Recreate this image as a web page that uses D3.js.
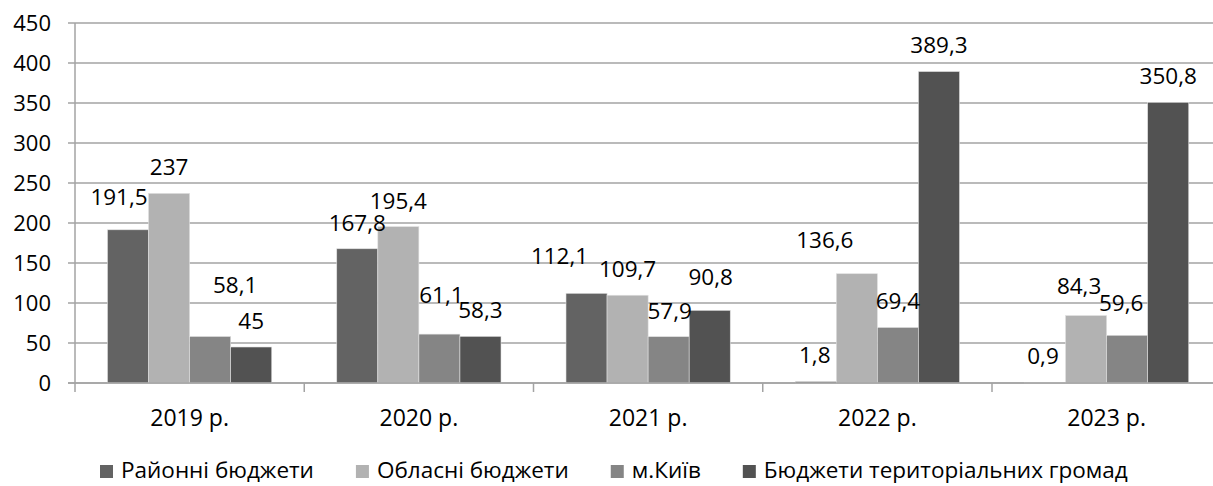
<!DOCTYPE html>
<html>
<head>
<meta charset="utf-8">
<script src="https://cdn.jsdelivr.net/npm/d3@7"></script>
<style>
  body { margin: 0; background: #fff; }
  text { font-family: "Open Sans", sans-serif; fill: #000; }
</style>
</head>
<body>
<svg id="chart" width="1213" height="486"></svg>
<script>
// data
var years = ['2019 р.', '2020 р.', '2021 р.', '2022 р.', '2023 р.'];
var seriesNames = ['Районні бюджети', 'Обласні бюджети', 'м.Київ', 'Бюджети територіальних громад'];
var raionni = [191.5, 167.8, 112.1, 1.8, 0.9];
var oblasni = [237, 195.4, 109.7, 136.6, 84.3];
var kyiv = [58.1, 61.1, 57.9, 69.4, 59.6];
var hromady = [45, 58.3, 90.8, 389.3, 350.8];
var yTicks = [0, 50, 100, 150, 200, 250, 300, 350, 400, 450];

var colors = ['#636363', '#b2b2b2', '#858585', '#525252'];

// manual label nudges (dx, dy) like the hand-moved excel labels, per year then series
var labelNudge = [
  [[-9, -7], [0, 0], [25, -25], [0, 0]],
  [[0, 0], [0, 0], [2, -13], [0, 0]],
  [[-27, -11], [0, 0], [1, 0], [1, -7]],
  [[-1, 0], [-32, -8], [0, 0], [0, 0]],
  [[-2, 0], [-7, -3], [-6, -6], [0, 0]]
];

var allSeries = [raionni, oblasni, kyiv, hromady];

var svg = d3.select('#chart');
var plotLeft = 75, plotTop = 23, plotBottom = 383;
var band = 229.25;

var x = d3.scaleBand().domain(years).range([plotLeft, plotLeft + band * years.length]);
var xs = d3.scaleBand().domain(d3.range(seriesNames.length)).range([32.5, band - 32.5]);
var y = d3.scaleLinear().domain([0, 450]).range([plotBottom, plotTop]);

// gridlines + y labels
var grid = svg.append('g');
grid.selectAll('line').data(yTicks).enter().append('line')
  .attr('x1', plotLeft - 7).attr('x2', 1213)
  .attr('y1', function(d) { return y(d); })
  .attr('y2', function(d) { return y(d); })
  .attr('stroke', '#a3a3a3').attr('stroke-width', 1.5);
grid.selectAll('text').data(yTicks).enter().append('text')
  .attr('x', 51).attr('y', function(d) { return y(d); })
  .attr('dy', '0.35em').attr('text-anchor', 'end')
  .style('font-size', '22px')
  .text(function(d) { return d; });

// y axis line
svg.append('line')
  .attr('x1', plotLeft).attr('x2', plotLeft).attr('y1', plotTop).attr('y2', plotBottom)
  .attr('stroke', '#a3a3a3').attr('stroke-width', 1.5);

// x ticks between categories
svg.append('g').selectAll('line').data(years).enter().append('line')
  .attr('x1', function(d) { return x(d); }).attr('x2', function(d) { return x(d); })
  .attr('y1', plotBottom).attr('y2', plotBottom + 9)
  .attr('stroke', '#a3a3a3').attr('stroke-width', 1.5);

// bars
var groups = svg.append('g').selectAll('g').data(years).enter().append('g')
  .attr('transform', function(d) { return 'translate(' + x(d) + ',0)'; });

function cells(d, i) {
  return allSeries.map(function(s, j) { return { s: j, v: s[i], yi: i }; });
}

groups.selectAll('rect').data(cells).enter().append('rect')
  .attr('x', function(d) { return xs(d.s); })
  .attr('width', xs.bandwidth())
  .attr('y', function(d) { return y(d.v); })
  .attr('height', function(d) { return plotBottom - y(d.v); })
  .attr('fill', function(d) { return colors[d.s]; })
  .attr('stroke', '#e0e0e0').attr('stroke-width', 0.6);

// value labels
groups.selectAll('text.val').data(cells).enter().append('text').attr('class', 'val')
  .attr('x', function(d) { return xs(d.s) + xs.bandwidth() / 2 + labelNudge[d.yi][d.s][0]; })
  .attr('y', function(d) { return y(d.v) - 26 + labelNudge[d.yi][d.s][1]; })
  .attr('dy', '0.35em').attr('text-anchor', 'middle')
  .style('font-size', '22.5px')
  .text(function(d) { return String(d.v).replace('.', ','); });

// x axis baseline
svg.append('line')
  .attr('x1', plotLeft - 7).attr('x2', 1213).attr('y1', plotBottom).attr('y2', plotBottom)
  .attr('stroke', '#a3a3a3').attr('stroke-width', 1.5);

// category labels
svg.append('g').selectAll('text').data(years).enter().append('text')
  .attr('x', function(d) { return x(d) + x.bandwidth() / 2; })
  .attr('y', 426).attr('text-anchor', 'middle')
  .style('font-size', '23px')
  .text(function(d) { return d; });

// legend
var lg = svg.append('g');
var lx = 100;
seriesNames.forEach(function(name, i) {
  lg.append('rect').attr('x', lx).attr('y', 465).attr('width', 13).attr('height', 13)
    .attr('fill', colors[i]);
  var t = lg.append('text').attr('x', lx + 21).attr('y', 478)
    .style('font-size', '22.5px').text(name);
  lx += 21 + t.node().getComputedTextLength() + 42;
});
</script>
</body>
</html>
